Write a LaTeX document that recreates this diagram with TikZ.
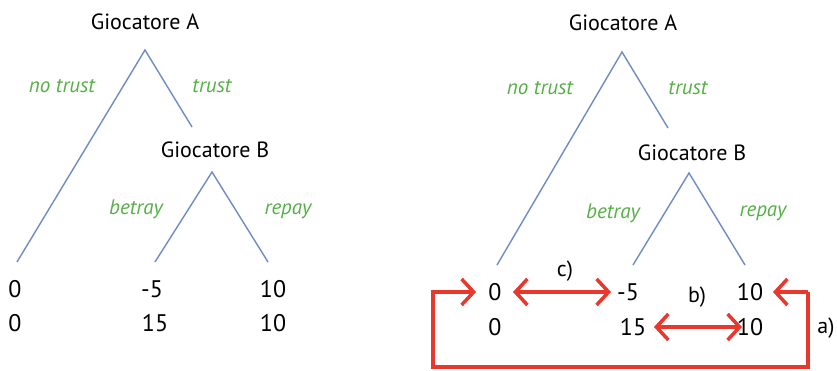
\documentclass[tikz,border=0pt]{standalone}
\usepackage{fontspec}
\setmainfont{PT Sans}
\usetikzlibrary{arrows.meta}
\definecolor{treeblue}{RGB}{110,140,195}
\definecolor{lblgreen}{RGB}{85,175,70}
\definecolor{arrred}{RGB}{232,55,45}
\tikzset{
  branch/.style={draw=treeblue, line width=1.4pt},
  player/.style={font=\fontsize{22}{24}\selectfont, inner sep=0pt},
  move/.style={font=\fontsize{21}{24}\selectfont\itshape, text=lblgreen, inner sep=0pt},
  payoff/.style={font=\fontsize{24}{26}\selectfont, inner sep=0pt},
  tag/.style={font=\fontsize{22}{24}\selectfont, inner sep=0pt},
  redarr/.style={draw=arrred, line width=3.5pt, arrows={-Straight Barb[length=12pt,width=26pt]}},
  redboth/.style={draw=arrred, line width=3.5pt, arrows={Straight Barb[length=12pt,width=26pt]-Straight Barb[length=12pt,width=26pt]}}
}
\begin{document}
\begin{tikzpicture}[x=1pt,y=-1pt]
\useasboundingbox (0,0) rectangle (837,371);
% ---------- left tree ----------
\node[player] (LA) at (145,22) {Giocatore A};
\coordinate (LAr) at (145,50);
\coordinate (LAl) at (17,262);
\coordinate (LAt) at (192,127);
\draw[branch] (LAl) -- (LAr) -- (LAt);
\node[move] (Lnt) at (62,86) {no trust};
\node[move] (Lt) at (212,86) {trust};
\node[player] (LB) at (215,150) {Giocatore B};
\coordinate (LBr) at (212,172);
\coordinate (LBl) at (155,262);
\coordinate (LBrp) at (268,262);
\draw[branch] (LBl) -- (LBr) -- (LBrp);
\node[move] (Lbe) at (136,209) {betray};
\node[move] (Lre) at (288,211) {repay};
\node[payoff] (L1a) at (15,289) {0};
\node[payoff] (L1b) at (15,323) {0};
\node[payoff] (L2a) at (152,289) {-5};
\node[payoff] (L2b) at (155,323) {15};
\node[payoff] (L3a) at (273,289) {10};
\node[payoff] (L3b) at (273,323) {10};
% ---------- right tree ----------
\node[player] (RA) at (623,23) {Giocatore A};
\coordinate (RAr) at (622,52);
\coordinate (RAl) at (497,265);
\coordinate (RAt) at (668,128);
\draw[branch] (RAl) -- (RAr) -- (RAt);
\node[move] (Rnt) at (540,88) {no trust};
\node[move] (Rt) at (688,88) {trust};
\node[player] (RB) at (692,153) {Giocatore B};
\coordinate (RBr) at (689,173);
\coordinate (RBl) at (633,265);
\coordinate (RBrp) at (745,265);
\draw[branch] (RBl) -- (RBr) -- (RBrp);
\node[move] (Rbe) at (613,213) {betray};
\node[move] (Rre) at (763,213) {repay};
\node[payoff] (R1a) at (495,292) {0};
\node[payoff] (R1b) at (495,327) {0};
\node[payoff] (R2a) at (628,292) {-5};
\node[payoff] (R2b) at (633,327) {15};
\node[payoff] (R3a) at (750,292) {10};
\node[payoff] (R3b) at (750,327) {10};
\node[tag] (tc) at (565,271) {c)};
\node[tag] (tb) at (697,297) {b)};
\node[tag] (ta) at (826,328) {a)};
% red arrows
\coordinate (ca) at (513,292);
\coordinate (cb) at (611,292);
\draw[redboth] (ca) -- (cb);
\coordinate (ba) at (654,327);
\coordinate (bb) at (742,327);
\draw[redboth] (ba) -- (bb);
\coordinate (aS) at (773,292);
\coordinate (aE) at (476,292);
\coordinate (k1) at (808,292);
\coordinate (k2) at (808,367);
\coordinate (k3) at (433,367);
\coordinate (k4) at (433,292);
\draw[redarr] (k1) -- (aS);
\draw[redarr, line join=miter] (k1) -- (k2) -- (k3) -- (k4) -- (aE);
\end{tikzpicture}
\end{document}
